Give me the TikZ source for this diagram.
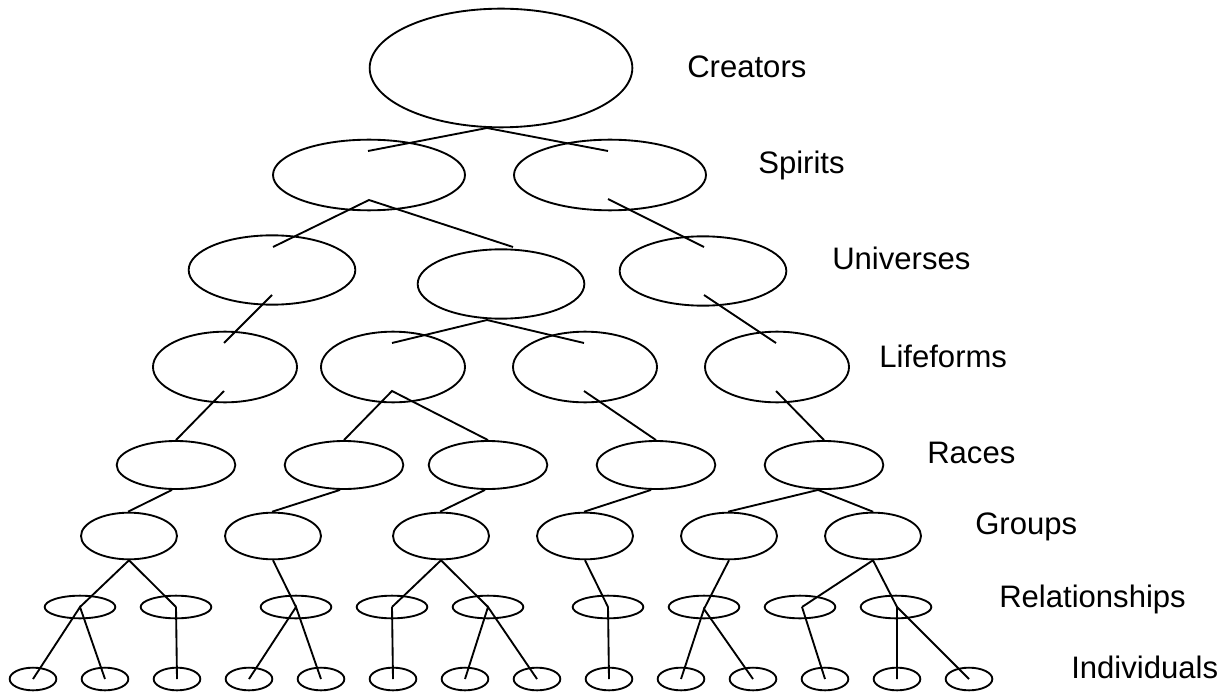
\documentclass[tikz,border=0pt]{standalone}
\usepackage{fontspec}
\setmainfont{Liberation Sans}
\usetikzlibrary{shapes.geometric,calc}
\tikzset{
  ell/.style={draw, ellipse, line width=1.4pt, inner sep=0pt},
  cre/.style={ell, minimum width=197pt, minimum height=89pt},
  spi/.style={ell, minimum width=144pt, minimum height=53pt},
  uni/.style={ell, minimum width=125pt, minimum height=52pt},
  life/.style={ell, minimum width=108pt, minimum height=53pt},
  race/.style={ell, minimum width=89pt, minimum height=36pt},
  grp/.style={ell, minimum width=72pt, minimum height=35pt},
  rel/.style={ell, minimum width=53pt, minimum height=17pt},
  ind/.style={ell, minimum width=35pt, minimum height=17pt},
  conn/.style={line width=1.4pt},
  lbl/.style={font=\fontsize{23.3}{27}\selectfont, anchor=base west, inner sep=0pt}
}
\begin{document}
\begin{tikzpicture}[x=0.75pt,y=-0.75pt]
\useasboundingbox (0,0) rectangle (1226,698);
% ellipses
\node[cre] (c) at (501,68) {};
\node[spi] (s1) at (369,175) {};
\node[spi] (s2) at (610,175) {};
\node[uni] (u1) at (272,270) {};
\node[uni] (u2) at (501,284) {};
\node[uni] (u3) at (703,271) {};
\node[life] (l1) at (225,367) {};
\node[life] (l2) at (393,367) {};
\node[life] (l3) at (585,367) {};
\node[life] (l4) at (777,367) {};
\node[race] (r1) at (176,465) {};
\node[race] (r2) at (344,465) {};
\node[race] (r3) at (488,465) {};
\node[race] (r4) at (656,465) {};
\node[race] (r5) at (824,465) {};
\node[grp] (g1) at (129,536) {};
\node[grp] (g2) at (273,536) {};
\node[grp] (g3) at (441,536) {};
\node[grp] (g4) at (585,536) {};
\node[grp] (g5) at (729,536) {};
\node[grp] (g6) at (873,536) {};
\node[rel] (e1) at (80,607) {};
\node[rel] (e2) at (176,607) {};
\node[rel] (e3) at (296,607) {};
\node[rel] (e4) at (392,607) {};
\node[rel] (e5) at (488,607) {};
\node[rel] (e6) at (608,607) {};
\node[rel] (e7) at (704,607) {};
\node[rel] (e8) at (800,607) {};
\node[rel] (e9) at (896,607) {};
\foreach \k in {1,...,14} {
  \node[ind] (i\k) at ({33+72*(\k-1)},679) {};
}
% labels
\node[lbl] (tc) at (687,78) {Creators};
\node[lbl] (ts) at (758,174) {Spirits};
\node[lbl] (tu) at (832,270) {Universes};
\node[lbl] (tl) at (879,367) {Lifeforms};
\node[lbl] (tr) at (927,463) {Races};
\node[lbl] (tg) at (975,534) {Groups};
\node[lbl] (te) at (999,607) {Relationships};
\node[lbl] (ti) at (1071,678) {Individuals};
% connectors
\draw[conn] ($(s1)+(-1,-24)$) -- ($(c)+(-14,60)$) -- ($(s2)+(-2,-24)$);
\draw[conn] ($(u1)+(1,-23)$) -- ($(s1)+(0,25)$) -- ($(u2)+(12,-37)$);
\draw[conn] ($(s2)+(-2,24)$) -- ($(u3)+(1,-24)$);
\draw[conn] ($(u1)+(0,25)$) -- ($(l1)+(-1,-24)$);
\draw[conn] ($(l2)+(-1,-24)$) -- ($(u2)+(-14,36)$) -- ($(l3)+(-1,-24)$);
\draw[conn] ($(u3)+(1,24)$) -- ($(l4)+(-1,-24)$);
\draw[conn] ($(l1)+(-1,24)$) -- (r1.north);
\draw[conn] (r2.north) -- ($(l2)+(-1,24)$) -- (r3.north);
\draw[conn] ($(l3)+(-1,24)$) -- (r4.north);
\draw[conn] ($(l4)+(-1,24)$) -- (r5.north);
\draw[conn] ($(r1.south)+(-4,0)$) -- ($(g1.north)+(-1,0)$);
\draw[conn] ($(r2.south)+(-4,0)$) -- ($(g2.north)+(-1,0)$);
\draw[conn] ($(r3.south)+(-3,0)$) -- ($(g3.north)+(-1,0)$);
\draw[conn] ($(r4.south)+(-5,0)$) -- ($(g4.north)+(-1,0)$);
\draw[conn] ($(g5.north)+(-1,0)$) -- ($(r5.south)+(-6,0)$) -- (g6.north);
\draw[conn] (e1.center) -- (g1.south) -- (e2.center);
\draw[conn] (g2.south) -- (e3.center);
\draw[conn] (e4.center) -- (g3.south) -- (e5.center);
\draw[conn] (g4.south) -- (e6.center);
\draw[conn] (g5.south) -- ($(e7)+(0,2)$);
\draw[conn] ($(e8)+(2,0)$) -- (g6.south) -- ($(e9)+(1,0)$);
\draw[conn] (i1.center) -- (e1.center) -- (i2.center);
\draw[conn] (e2.center) -- (i3.center);
\draw[conn] (i4.center) -- (e3.center) -- (i5.center);
\draw[conn] (e4.center) -- (i6.center);
\draw[conn] (i7.center) -- (e5.center) -- (i8.center);
\draw[conn] (e6.center) -- (i9.center);
\draw[conn] (i10.center) -- ($(e7)+(0,2)$) -- (i11.center);
\draw[conn] ($(e8)+(2,0)$) -- (i12.center);
\draw[conn] (i13.center) -- ($(e9)+(1,0)$) -- (i14.center);
\end{tikzpicture}
\end{document}
